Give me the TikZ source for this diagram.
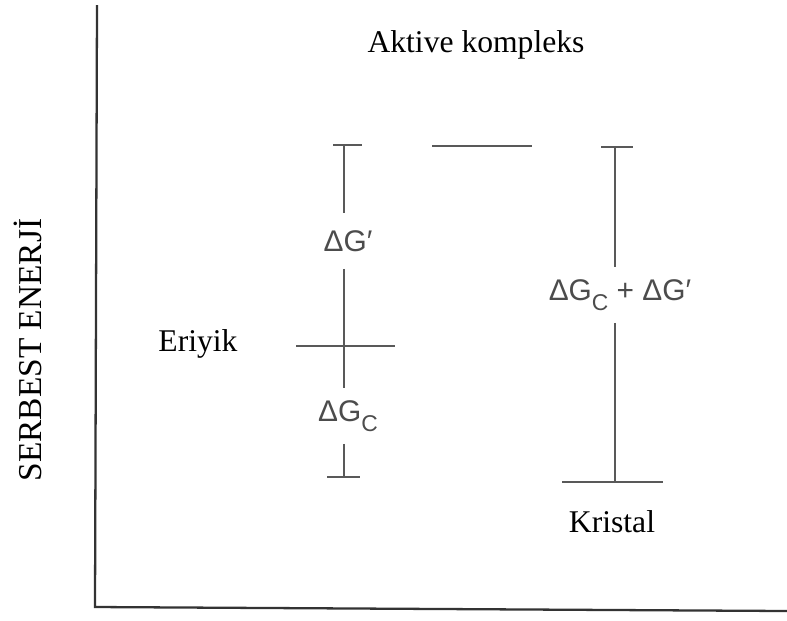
\documentclass[tikz,border=0pt]{standalone}
\usepackage{fontspec}
\setmainfont{Liberation Serif}
\newfontfamily\termfont{Liberation Sans}
\usetikzlibrary{positioning}

\newcommand{\subC}{\raisebox{-0.6ex}{\fontsize{13}{14}\selectfont C}}

\begin{document}
\begin{tikzpicture}[
  x=0.02cm, y=-0.02cm,
  axis/.style={line width=1.3pt, draw=black!80},
  level/.style={line width=1.1pt, draw=black!65},
  term/.style={font=\termfont\fontsize{17}{19}\selectfont, text=black!70, inner sep=1pt, minimum height=1.1cm},
  caption/.style={font=\fontsize{18}{21}\selectfont}
]
\useasboundingbox (0,0) rectangle (787,620);

% axes
\coordinate (ytop) at (97,5);
\coordinate (origin) at (95,607);
\coordinate (xend) at (787,611);
\draw[axis] (ytop) -- (origin) -- (xend);
\node[font=\fontsize{19}{22}\selectfont, rotate=90] (energy) at (28,350) {SERBEST ENERJİ};

% labels
\node[caption] (complex) at (476,45) {Aktive kompleks};
\node[caption] (melt) at (198,344) {Eriyik};
\node[caption] (crystal) at (612,522) {Kristal};

% left bar
\coordinate (ltopa) at (333,145);
\coordinate (ltopb) at (362,145);
\coordinate (ltop) at (344,145);
\coordinate (lbota) at (327,477);
\coordinate (lbotb) at (360,477);
\coordinate (lbot) at (344,477);
\coordinate (melta) at (296,346);
\coordinate (meltb) at (395,346);
\node[term] (dgact) at (348,241) {ΔG′};
\node[term] (dgcl) at (348,416) {ΔG\subC};
\draw[level] (ltopa) -- (ltopb);
\draw[level] (ltop) -- (ltop |- dgact.north);
\draw[level] (ltop |- dgact.south) -- (ltop |- dgcl.north);
\draw[level] (lbot |- dgcl.south) -- (lbot);
\draw[level] (lbota) -- (lbotb);
\draw[level] (melta) -- (meltb);

% activated complex level
\coordinate (acta) at (432,146);
\coordinate (actb) at (532,146);
\draw[level] (acta) -- (actb);

% right bar
\coordinate (rtopa) at (601,147);
\coordinate (rtopb) at (633,147);
\coordinate (rtop) at (615,147);
\coordinate (rbota) at (562,482);
\coordinate (rbotb) at (663,482);
\coordinate (rbot) at (615,482);
\node[term] (dgsum) at (620,295) {ΔG\subC\ + ΔG′};
\draw[level] (rtopa) -- (rtopb);
\draw[level] (rtop) -- (rtop |- dgsum.north);
\draw[level] (rbot |- dgsum.south) -- (rbot);
\draw[level] (rbota) -- (rbotb);
\end{tikzpicture}
\end{document}
